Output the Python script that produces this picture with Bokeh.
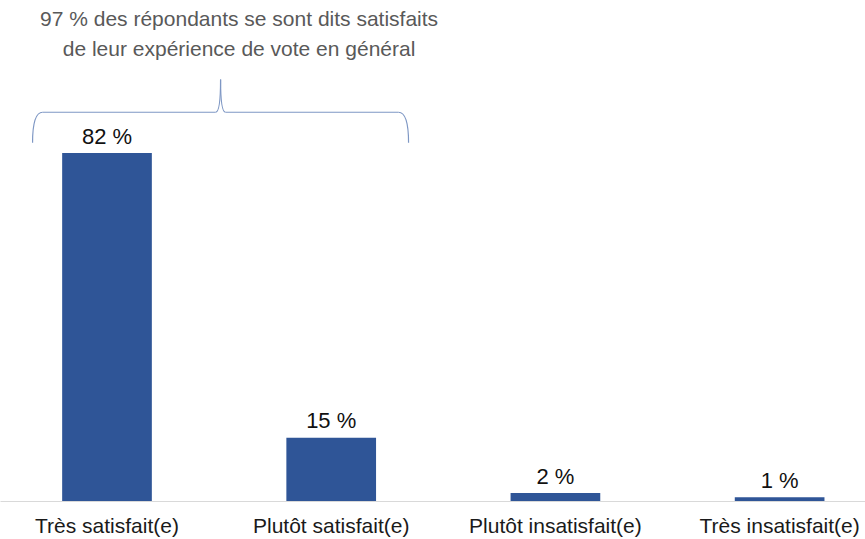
from bokeh.plotting import figure
from bokeh.models import ColumnDataSource, Range1d, LinearAxis, FixedTicker
from bokeh.core.properties import value
from bokeh.embed import file_html
from bokeh.resources import INLINE

categories = ["Très satisfait(e)", "Plutôt satisfait(e)", "Plutôt insatisfait(e)", "Très insatisfait(e)"]
values = [82, 15, 2, 1]
value_labels = ["82 %", "15 %", "2 %", "1 %"]
callout = "97 % des répondants se sont dits satisfaits\nde leur expérience de vote en général"

FONT = "Liberation Sans"
BAR = "#2F5597"

xs = list(range(len(categories)))
src = ColumnDataSource(dict(x=xs, top=values, lab=value_labels))

Y_END = 117.9
p = figure(width=865, height=539, output_backend="svg", toolbar_location=None,
           x_axis_location=None, y_axis_location=None,
           x_range=Range1d(-0.475, 3.383), y_range=Range1d(0, Y_END),
           min_border_left=0, min_border_right=0, min_border_top=0, min_border_bottom=37)
p.outline_line_color = None
p.xgrid.visible = False
p.ygrid.visible = False
p.background_fill_color = "white"
p.border_fill_color = "white"

ax = LinearAxis(ticker=FixedTicker(ticks=xs),
                major_label_overrides={i: c for i, c in enumerate(categories)})
ax.axis_line_color = "#D9D9D9"
ax.axis_line_width = 1
ax.major_tick_line_color = None
ax.minor_tick_line_color = None
ax.major_label_text_font = FONT
ax.major_label_text_font_size = "21px"
ax.major_label_text_color = "#1A1A1A"
ax.major_label_standoff = 6
p.add_layout(ax, "below")

p.vbar(x="x", top="top", bottom=0, width=0.4, source=src, fill_color=BAR, line_color=None)
p.text(x="x", y="top", text="lab", source=src, text_align="center", text_baseline="alphabetic",
       y_offset=-17, text_font=value(FONT), text_font_size="22px", text_color="#111111")

# Brace grouping the two "satisfied" categories
xl, xr = -0.332, 1.345
xm = (xl + xr) / 2
yb = values[0] + 2.4
yh = values[0] + 9.6
yt = values[0] + 17.3
dx = 0.045
dm = 0.022
bc = "#7E97C4"
p.quadratic(x0=[xl, xr], y0=[yb, yb], x1=[xl + dx, xr - dx], y1=[yh, yh],
            cx=[xl, xr], cy=[yh, yh], line_color=bc, line_width=1.2)
p.segment(x0=[xl + dx, xm + dm], y0=[yh, yh], x1=[xm - dm, xr - dx], y1=[yh, yh],
          line_color=bc, line_width=1.2)
p.quadratic(x0=[xm - dm, xm + dm], y0=[yh, yh], x1=[xm, xm], y1=[yt, yt],
            cx=[xm, xm], cy=[yh, yh], line_color=bc, line_width=1.2)

p.text(x=[0.589], y=[Y_END], text=[callout], text_align="center", text_baseline="top",
       y_offset=6, text_font=value(FONT), text_font_size="21px", text_color="#595959",
       text_line_height=1.33)

open("out.html", "w").write(file_html(p, INLINE))
